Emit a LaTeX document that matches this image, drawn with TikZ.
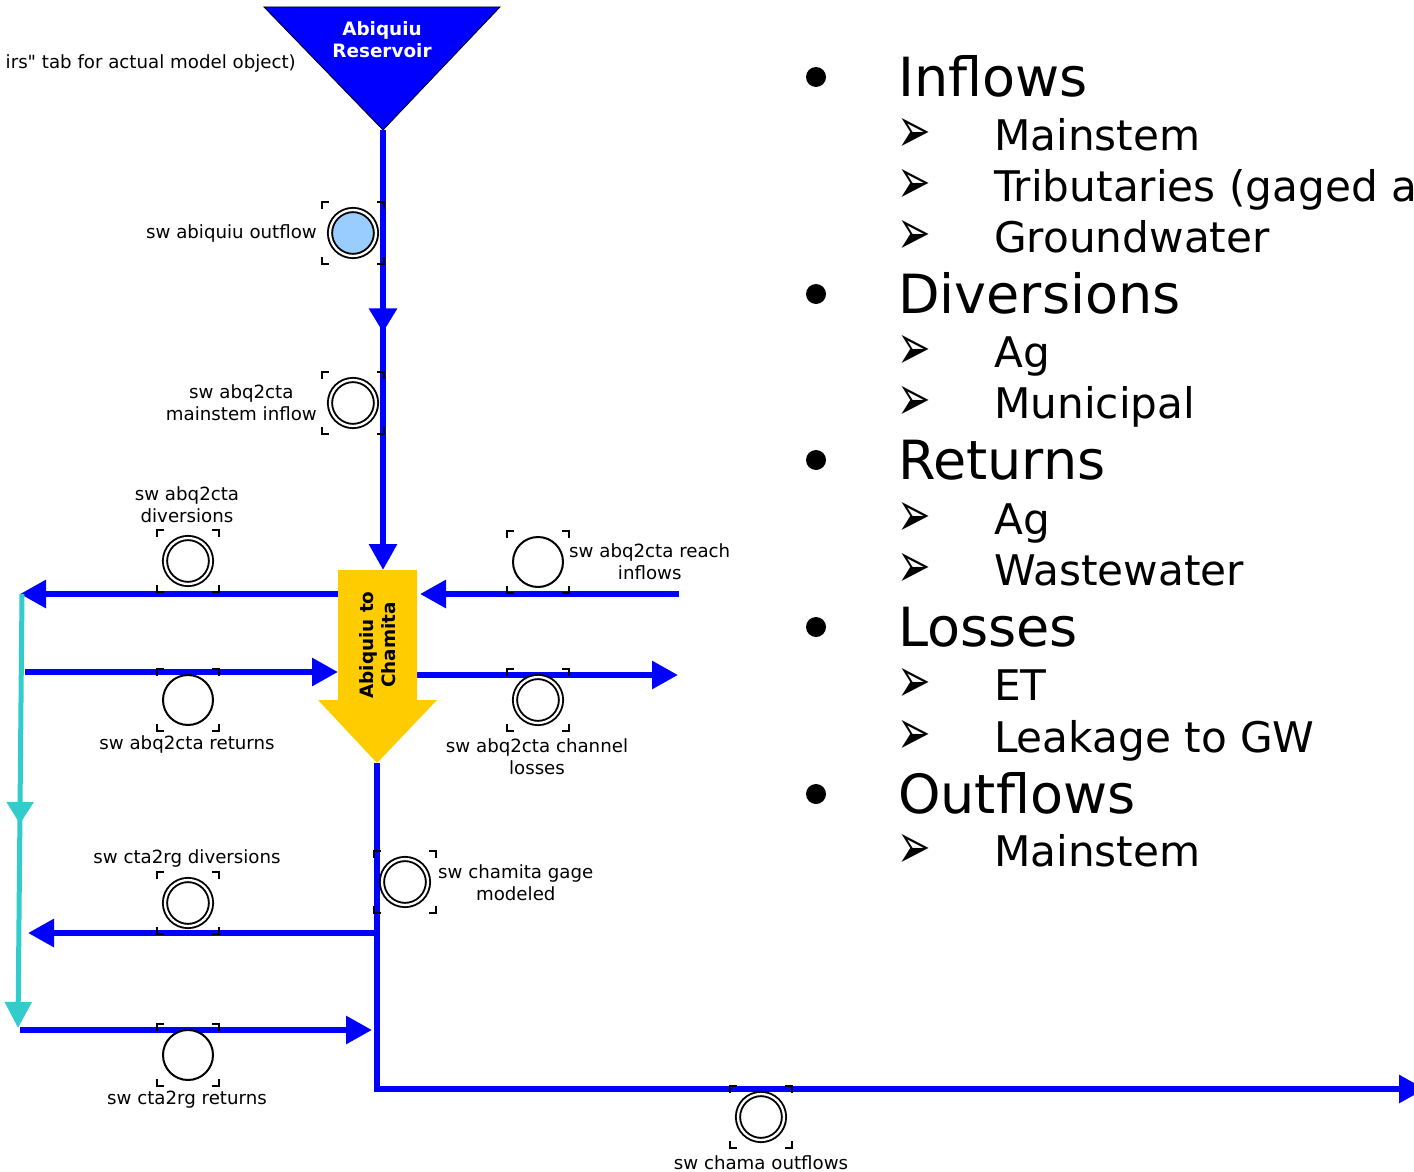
\documentclass[tikz,border=0pt]{standalone}
\usepackage{fontspec}
\setmainfont{DejaVu Sans}
\newfontfamily\plainfont{DejaVu Sans}
\usetikzlibrary{arrows.meta,decorations.markings}

\definecolor{riverblue}{RGB}{0,0,255}
\definecolor{reachgold}{RGB}{255,204,0}
\definecolor{returnteal}{RGB}{51,204,204}
\definecolor{gagefill}{RGB}{153,204,255}

% corner marks round a gage node
\newcommand{\gagecorners}[1]{%
  \draw[corner] ([shift={(-31,-24)}]#1.center) -- ++(0,-7) -- ++(7,0);
  \draw[corner] ([shift={(24,-31)}]#1.center) -- ++(7,0) -- ++(0,7);
  \draw[corner] ([shift={(-31,24)}]#1.center) -- ++(0,7) -- ++(7,0);
  \draw[corner] ([shift={(24,31)}]#1.center) -- ++(7,0) -- ++(0,-7);
}

\begin{document}
\begin{tikzpicture}[x=1pt, y=-1pt,
    flow/.style={draw=riverblue, line width=6pt, -{Triangle[length=26pt,width=27pt]}},
    backflow/.style={draw=returnteal, line width=5pt, -{Triangle[length=26pt,width=26pt]}},
    gage/.style={circle, draw=black, line width=1.9pt, double=white, double distance=2.3pt,
        minimum size=46pt, inner sep=0pt, fill=white},
    plaingage/.style={circle, draw=black, line width=2pt, minimum size=50pt, inner sep=0pt, fill=white},
    corner/.style={black, line width=2.2pt},
    gagelabel/.style={font=\fontsize{18.2}{22}\selectfont, inner sep=0pt, align=center},
    boldlabel/.style={font=\fontsize{18.4}{22}\selectfont\bfseries, inner sep=0pt, align=center},
    topic/.style={font=\fontsize{54}{60}\selectfont, inner sep=0pt, anchor=base west},
    subtopic/.style={font=\fontsize{42.2}{48}\selectfont, inner sep=0pt, anchor=base west},
    pointer/.style={font=\fontsize{40}{44}\selectfont\bfseries, inner sep=0pt},
    dot/.style={circle, fill=black, minimum size=20pt, inner sep=0pt}
]
    \useasboundingbox (0,0) rectangle (1414,1172);
    \clip (0,0) rectangle (1414,1172);

    % note cut at the left edge
    \node[gagelabel, font=\fontsize{18.2}{22}\plainfont, anchor=east] (note) at (296,63)
        {irs" tab for actual model object)};

    % reservoir
    \coordinate (resTL) at (264,7);
    \coordinate (resTR) at (500,7);
    \coordinate (resTip) at (383,130);
    \fill[riverblue, draw=black, line width=0.8pt] (resTL) -- (resTR) -- (resTip) -- cycle;
    \node[boldlabel, text=white] (res) at (382,40) {Abiquiu\\Reservoir};

    % points on the reach
    \coordinate (reachTop) at (383,570);
    \coordinate (reachTip) at (377,763);
    \coordinate (divStart) at (338,594);
    \coordinate (divEnd) at (20,594);
    \coordinate (retStart) at (25,672);
    \coordinate (retEnd) at (338,672);
    \coordinate (inStart) at (679,594);
    \coordinate (inEnd) at (420,594);
    \coordinate (lossStart) at (417,675);
    \coordinate (lossEnd) at (678,675);
    \coordinate (mainBend) at (377,1089);
    \coordinate (mainEnd) at (1425,1089);
    \coordinate (ctaDivStart) at (377,933);
    \coordinate (ctaDivEnd) at (28,933);
    \coordinate (ctaRetStart) at (20,1030);
    \coordinate (ctaRetEnd) at (372,1030);
    \coordinate (tealTop) at (22,594);
    \coordinate (tealEnd) at (18,1028);

    % flows
    \draw[flow, postaction={decorate}, decoration={markings,
        mark=at position 0.46 with {\arrow{Triangle[length=24pt,width=27pt]}}}] (resTip) -- (reachTop);
    \draw[flow] (divStart) -- (divEnd);
    \draw[flow] (retStart) -- (retEnd);
    \draw[flow] (inStart) -- (inEnd);
    \draw[flow] (lossStart) -- (lossEnd);
    \draw[flow] (reachTip) -- (mainBend) -- (mainEnd);
    \draw[flow] (ctaDivStart) -- (ctaDivEnd);
    \draw[flow] (ctaRetStart) -- (ctaRetEnd);
    \draw[backflow, postaction={decorate}, decoration={markings,
        mark=at position 0.53 with {\arrow{Triangle[length=22pt,width=26pt]}}}] (tealTop) -- (tealEnd);

    % reach block arrow
    \fill[reachgold] (338,570) -- (417,570) -- (417,700) -- (437,700) -- (reachTip)
        -- (318,700) -- (338,700) -- cycle;
    \node[boldlabel, rotate=90] (reach) at (378,645) {Abiquiu to\\Chamita};

    % gages
    \node[gage, fill=gagefill] (outflow) at (353,233) {};
    \node[gage] (mainstem) at (353,403) {};
    \node[gage] (abqDiv) at (188,561) {};
    \node[plaingage] (abqRet) at (188,700) {};
    \node[plaingage] (abqIn) at (538,562) {};
    \node[gage] (abqLoss) at (538,700) {};
    \node[gage] (chamita) at (405,882) {};
    \node[gage] (ctaDiv) at (188,903) {};
    \node[plaingage] (ctaRet) at (188,1055) {};
    \node[gage] (chama) at (761,1117) {};
    \foreach \g in {outflow,mainstem,abqDiv,abqRet,abqIn,abqLoss,chamita,ctaDiv,ctaRet,chama}
        {\gagecorners{\g}}

    \node[gagelabel, anchor=east] (outflowLbl) at (317,233) {sw abiquiu outflow};
    \node[gagelabel, anchor=east] (mainstemLbl) at (317,403) {sw abq2cta\\mainstem inflow};
    \node[gagelabel] (abqDivLbl) at (187,505) {sw abq2cta\\diversions};
    \node[gagelabel] (abqRetLbl) at (187,744) {sw abq2cta returns};
    \node[gagelabel, anchor=west] (abqInLbl) at (569,562) {sw abq2cta reach\\inflows};
    \node[gagelabel] (abqLossLbl) at (537,757) {sw abq2cta channel\\losses};
    \node[gagelabel, anchor=west] (chamitaLbl) at (438,883) {sw chamita gage\\modeled};
    \node[gagelabel] (ctaDivLbl) at (187,858) {sw cta2rg diversions};
    \node[gagelabel] (ctaRetLbl) at (187,1100) {sw cta2rg returns};
    \node[gagelabel] (chamaLbl) at (761,1163) {sw chama outflows};

    % list of terms
    \foreach \name/\txt/\yy in {inflows/Inflows/77, diversions/Diversions/294,
        returns/Returns/460, losses/Losses/627, outflows/Outflows/794} {
        \node[dot] (dot-\name) at (816,\yy) {};
        \node[topic] (topic-\name) at (898,\yy+19) {\txt};
    }
    \foreach \name/\txt/\yy in {inMain/Mainstem/150, inTrib/Tributaries (gaged a/201,
        inGw/Groundwater/252, divAg/Ag/367, divMuni/Municipal/418, retAg/Ag/534,
        retWw/Wastewater/585, lossEt/ET/700, lossGw/Leakage to GW/752, outMain/Mainstem/866} {
        \node[pointer] (ptr-\name) at (914,\yy-15) {\scalebox{1}[1.6]{➢}};
        \node[subtopic] (sub-\name) at (994,\yy) {\txt};
    }
\end{tikzpicture}
\end{document}
